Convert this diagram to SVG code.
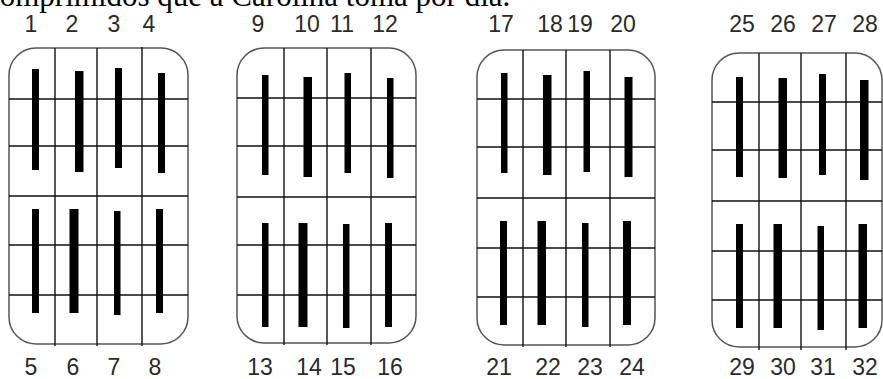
<svg xmlns="http://www.w3.org/2000/svg" width="883" height="379" viewBox="0 0 883 379">
<style>
.frame{fill:#fff;stroke:#555;stroke-width:1.5}
.grid{stroke:#111;stroke-width:1.4;fill:none}
.bar{fill:#000}
.num{font-family:"Liberation Sans","DejaVu Sans",sans-serif;font-size:23px;fill:#2a2a2a;text-anchor:middle}
.title{font-family:"Liberation Serif","Times New Roman",serif;font-size:31px;fill:#000}
</style>
<rect width="883" height="379" fill="#fff"/>
<text class="title" x="-14" y="6">comprimidos que a Carolina toma por dia.</text>

<g id="panel1">
<rect class="frame" x="9" y="48" width="179" height="296" rx="27"/>
<g class="grid">
<path d="M9 99H188M9 146H188M9 196H188M9 245H188M9 295H188"/>
<path d="M55 48V346M97 48V346M142 47V346"/>
</g>
<rect class="bar" x="32" y="69" width="7" height="101"/>
<rect class="bar" x="75" y="71" width="8.5" height="101"/>
<rect class="bar" x="115" y="68" width="7" height="100"/>
<rect class="bar" x="158" y="73" width="7" height="100"/>
<rect class="bar" x="32" y="209" width="7" height="104"/>
<rect class="bar" x="69.5" y="209" width="9" height="104"/>
<rect class="bar" x="114" y="211" width="6.5" height="104"/>
<rect class="bar" x="156" y="209" width="7" height="104"/>
<text class="num" x="31" y="32">1</text>
<text class="num" x="72" y="32">2</text>
<text class="num" x="114" y="32">3</text>
<text class="num" x="149" y="32">4</text>
<text class="num" x="31" y="375">5</text>
<text class="num" x="73" y="375">6</text>
<text class="num" x="114" y="375">7</text>
<text class="num" x="155" y="375">8</text>
</g>

<g id="panel2">
<rect class="frame" x="237" y="48" width="179" height="295" rx="27"/>
<g class="grid">
<path d="M237 98H416M237 146H416M237 197H416M237 245H416M237 295H416"/>
<path d="M284 48V345M327 48V345M371 48V345"/>
</g>
<rect class="bar" x="262" y="75" width="6.5" height="100"/>
<rect class="bar" x="303.5" y="77" width="8.5" height="100"/>
<rect class="bar" x="344.5" y="73" width="6.5" height="100"/>
<rect class="bar" x="387" y="78" width="6.5" height="100"/>
<rect class="bar" x="262" y="223" width="6.5" height="104"/>
<rect class="bar" x="298.5" y="223" width="9" height="104"/>
<rect class="bar" x="343" y="224" width="6.5" height="104"/>
<rect class="bar" x="385" y="223" width="7" height="104"/>
<text class="num" x="258" y="32">9</text>
<text class="num" x="307" y="32">10</text>
<text class="num" x="342" y="32">11</text>
<text class="num" x="385" y="32">12</text>
<text class="num" x="260" y="375">13</text>
<text class="num" x="309" y="375">14</text>
<text class="num" x="343" y="375">15</text>
<text class="num" x="390" y="375">16</text>
</g>

<g id="panel3">
<rect class="frame" x="477" y="50" width="178" height="295" rx="27"/>
<g class="grid">
<path d="M477 99H655M477 147H655M477 198H655M477 248H655M477 297H655"/>
<path d="M523 50V347M566 50V347M610 50V347"/>
</g>
<rect class="bar" x="501" y="73" width="6.5" height="100"/>
<rect class="bar" x="543" y="75" width="8.5" height="100"/>
<rect class="bar" x="583.5" y="71" width="6.5" height="101"/>
<rect class="bar" x="624.5" y="77" width="8" height="100"/>
<rect class="bar" x="500" y="221" width="7" height="104"/>
<rect class="bar" x="537.5" y="221" width="8.5" height="104"/>
<rect class="bar" x="582" y="223" width="6.5" height="104"/>
<rect class="bar" x="623" y="221" width="8" height="104"/>
<text class="num" x="501" y="32">17</text>
<text class="num" x="550" y="32">18</text>
<text class="num" x="580" y="32">19</text>
<text class="num" x="623" y="32">20</text>
<text class="num" x="499" y="375">21</text>
<text class="num" x="548" y="375">22</text>
<text class="num" x="590" y="375">23</text>
<text class="num" x="632" y="375">24</text>
</g>

<g id="panel4">
<rect class="frame" x="712" y="53" width="170" height="294" rx="27"/>
<g class="grid">
<path d="M712 102H882M712 150H882M712 201H882M712 251H882M712 300H882"/>
<path d="M759 53V350M801 53V350M846 53V350"/>
</g>
<rect class="bar" x="736" y="77" width="7" height="100"/>
<rect class="bar" x="778.5" y="78" width="8.5" height="100"/>
<rect class="bar" x="819" y="74" width="7" height="101"/>
<rect class="bar" x="860" y="80" width="8.5" height="100"/>
<rect class="bar" x="736" y="224" width="7" height="104"/>
<rect class="bar" x="773.5" y="224" width="8.5" height="104"/>
<rect class="bar" x="817.5" y="226" width="6.5" height="104"/>
<rect class="bar" x="858.5" y="224" width="8.5" height="104"/>
<text class="num" x="742" y="32">25</text>
<text class="num" x="783" y="32">26</text>
<text class="num" x="824" y="32">27</text>
<text class="num" x="865" y="32">28</text>
<text class="num" x="742" y="375">29</text>
<text class="num" x="783" y="375">30</text>
<text class="num" x="823" y="375">31</text>
<text class="num" x="865" y="375">32</text>
</g>
</svg>
